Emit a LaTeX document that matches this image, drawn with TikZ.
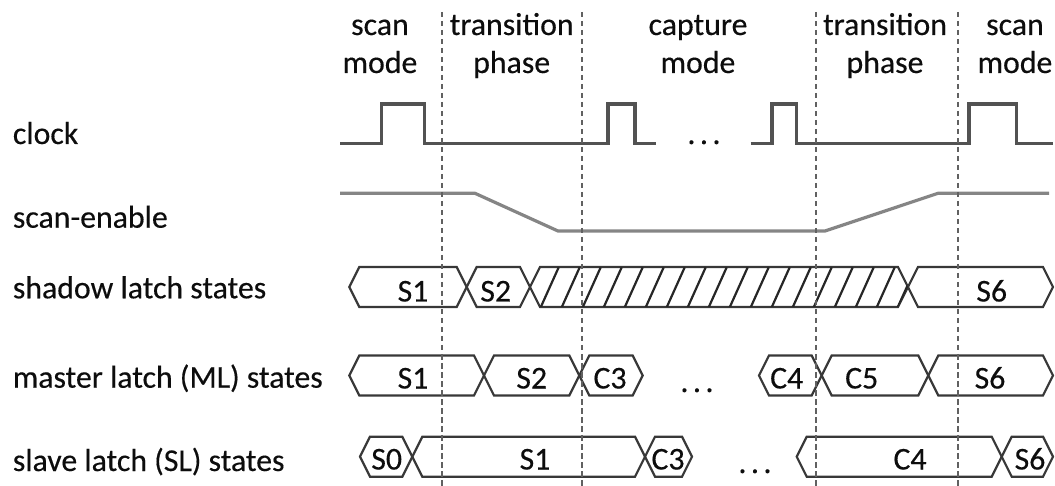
\documentclass[tikz,border=0pt]{standalone}
\usepackage{fontspec}
\setmainfont{Carlito}[FakeBold=0.35]
\newcommand\spdots{.\kern4.5pt.\kern4.5pt.}
\begin{document}
\begin{tikzpicture}[x=1pt,y=-1pt,
  lbl/.style={font=\fontsize{31.8}{36}\selectfont, text=black!95, inner sep=0pt},
  clk/.style={draw=black!68, line width=3.2pt},
  sen/.style={draw=black!48, line width=3.2pt},
  bus/.style={draw=black!78, line width=2.2pt, line join=miter},
  hatch/.style={draw=black!85, line width=2.2pt},
  phase/.style={draw=black!62, dash pattern=on 5.5pt off 3.5pt, line width=1.4pt}]
\useasboundingbox (0,0) rectangle (1055,486);
\newcommand\hexbox[3]{% xl, xr, yc
  \draw[bus] (#1,#3) -- ({#1+10},{#3-20}) -- ({#2-10},{#3-20}) -- (#2,#3)
    -- ({#2-10},{#3+20}) -- ({#1+10},{#3+20}) -- cycle;}
% left labels
\node[lbl, anchor=base west] (lclk) at (12.7,144) {clock};
\node[lbl, anchor=base west] (lse) at (12.7,227.7) {scan-enable};
\node[lbl, anchor=base west] (lsh) at (12.7,298.3) {shadow latch states};
\node[lbl, anchor=base west] (lml) at (12.7,387.7) {master latch (ML) states};
\node[lbl, anchor=base west] (lsl) at (12.7,471) {slave latch (SL) states};
% headers
\node[lbl, anchor=base] (h1a) at (380,35) {scan};
\node[lbl, anchor=base] (h1b) at (380,73) {mode};
\node[lbl, anchor=base] (h2a) at (511.7,35) {transition};
\node[lbl, anchor=base] (h2b) at (511.7,73) {phase};
\node[lbl, anchor=base] (h3a) at (698,35) {capture};
\node[lbl, anchor=base] (h3b) at (698,73) {mode};
\node[lbl, anchor=base] (h4a) at (885,35) {transition};
\node[lbl, anchor=base] (h4b) at (885,73) {phase};
\node[lbl, anchor=base] (h5a) at (1015,35) {scan};
\node[lbl, anchor=base] (h5b) at (1015,73) {mode};
% clock
\draw[clk] (340,143.5) -- (381.7,143.5) -- (381.7,104) -- (424.7,104) -- (424.7,143.5)
  -- (608,143.5) -- (608,104) -- (635,104) -- (635,143.5) -- (656,143.5);
\draw[clk] (750.7,143.5) -- (772,143.5) -- (772,104) -- (796.7,104) -- (796.7,143.5)
  -- (969,143.5) -- (969,104) -- (1016.7,104) -- (1016.7,143.5) -- (1053,143.5);
\node[lbl, anchor=base] (dclk) at (704,144) {\spdots};
% scan-enable
\draw[sen] (340,193.3) -- (475,193.3) -- (558,231) -- (825,231) -- (938,193.3) -- (1049,193.3);
% shadow latch row
\hexbox{349.3}{466.7}{287}
\hexbox{466.7}{530}{287}
\hexbox{530}{908}{287}
\hexbox{908}{1053}{287}
\begin{scope}
  \clip (530,287) -- (540,267) -- (898,267) -- (908,287) -- (898,307) -- (540,307) -- cycle;
  \foreach \k in {0,...,18} {
    \draw[hatch] ({540.7+21*\k},307.3) -- ({558.7+21*\k},267.3);
  }
\end{scope}
\node[lbl, anchor=base] (sh1) at (413,301.5) {S1};
\node[lbl, anchor=base] (sh2) at (495.7,301.5) {S2};
\node[lbl, anchor=base] (sh6) at (991.7,301.5) {S6};
% master latch row
\hexbox{349.3}{484}{375.5}
\hexbox{484}{579.3}{375.5}
\hexbox{579.3}{642.7}{375.5}
\hexbox{759}{821.7}{375.5}
\hexbox{821.7}{928.3}{375.5}
\hexbox{928.3}{1053}{375.5}
\node[lbl, anchor=base] (ml1) at (413,388.5) {S1};
\node[lbl, anchor=base] (ml2) at (531.7,388.5) {S2};
\node[lbl, anchor=base] (ml3) at (610,388.5) {C3};
\node[lbl, anchor=base] (dml) at (697,392) {\spdots};
\node[lbl, anchor=base] (ml4) at (786.7,388.5) {C4};
\node[lbl, anchor=base] (ml5) at (861.7,388.5) {C5};
\node[lbl, anchor=base] (ml6) at (990,388.5) {S6};
% slave latch row
\hexbox{360}{412.3}{456.7}
\hexbox{412.3}{645}{456.7}
\hexbox{645}{692}{456.7}
\hexbox{796.7}{1001.7}{456.7}
\hexbox{1001.7}{1053}{456.7}
\node[lbl, anchor=base] (sl0) at (386.7,469.5) {S0};
\node[lbl, anchor=base] (sl1) at (535,469.5) {S1};
\node[lbl, anchor=base] (sl3) at (668,469.5) {C3};
\node[lbl, anchor=base] (dsl) at (755,473) {\spdots};
\node[lbl, anchor=base] (sl4) at (910,469.5) {C4};
\node[lbl, anchor=base] (sl6) at (1030,469.5) {S6};
% phase boundaries
\coordinate (p1t) at (442,12); \coordinate (p1b) at (442,486);
\coordinate (p2t) at (582,12); \coordinate (p2b) at (582,486);
\coordinate (p3t) at (816,12); \coordinate (p3b) at (816,486);
\coordinate (p4t) at (958,12); \coordinate (p4b) at (958,486);
\draw[phase] (p1t) -- (p1b);
\draw[phase] (p2t) -- (p2b);
\draw[phase] (p3t) -- (p3b);
\draw[phase] (p4t) -- (p4b);
\end{tikzpicture}
\end{document}
